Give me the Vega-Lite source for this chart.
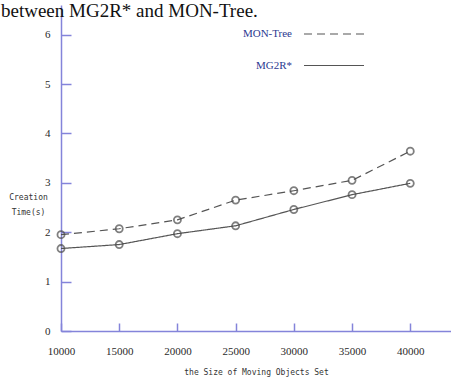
{
  "$schema": "https://vega.github.io/schema/vega-lite/v6.json",
  "width": 390,
  "height": 326,
  "autosize": {"type": "none"},
  "padding": {"left": 61, "top": 5, "right": 0, "bottom": 50},
  "background": "white",
  "title": {
    "text": "between MG2R* and MON-Tree.",
    "anchor": "start",
    "frame": "group",
    "font": "Liberation Serif",
    "fontSize": 19,
    "fontWeight": "normal",
    "color": "#111",
    "baseline": "top",
    "orient": "top",
    "dx": -60,
    "offset": -16
  },
  "data": {
    "values": [
      {"size": 10000, "time": 1.95, "method": "MON-Tree"},
      {"size": 15000, "time": 2.07, "method": "MON-Tree"},
      {"size": 20000, "time": 2.25, "method": "MON-Tree"},
      {"size": 25000, "time": 2.65, "method": "MON-Tree"},
      {"size": 30000, "time": 2.84, "method": "MON-Tree"},
      {"size": 35000, "time": 3.05, "method": "MON-Tree"},
      {"size": 40000, "time": 3.64, "method": "MON-Tree"},
      {"size": 10000, "time": 1.67, "method": "MG2R*"},
      {"size": 15000, "time": 1.75, "method": "MG2R*"},
      {"size": 20000, "time": 1.97, "method": "MG2R*"},
      {"size": 25000, "time": 2.13, "method": "MG2R*"},
      {"size": 30000, "time": 2.46, "method": "MG2R*"},
      {"size": 35000, "time": 2.76, "method": "MG2R*"},
      {"size": 40000, "time": 2.99, "method": "MG2R*"}
    ]
  },
  "config": {
    "view": {"stroke": null},
    "axis": {
      "grid": false,
      "domainColor": "#8484da",
      "tickColor": "#8484da",
      "domainWidth": 1.5,
      "tickWidth": 1.5,
      "labelFont": "Liberation Serif",
      "labelFontSize": 11,
      "labelColor": "#2a2a2a",
      "labelFlush": false,
      "labelOverlap": false,
      "titleFont": "DejaVu Sans Mono",
      "titleFontSize": 8,
      "titleFontWeight": "normal",
      "titleColor": "#333"
    }
  },
  "encoding": {
    "x": {
      "field": "size",
      "type": "quantitative",
      "scale": {"domain": [10000, 43500], "nice": false, "zero": false},
      "axis": {
        "values": [10000, 15000, 20000, 25000, 30000, 35000, 40000],
        "format": "d",
        "tickSize": -8,
        "labelPadding": 22,
        "title": "the Size of Moving Objects Set",
        "titlePadding": 12
      }
    },
    "y": {
      "field": "time",
      "type": "quantitative",
      "scale": {"domain": [0, 6.6], "nice": false},
      "axis": {
        "values": [0, 1, 2, 3, 4, 5, 6],
        "tickSize": -10,
        "labelPadding": 21,
        "title": ["Creation", "Time(s)"],
        "titleAngle": 0,
        "titleAlign": "center",
        "titleBaseline": "top",
        "titleX": -33,
        "titleY": 188,
        "titleLineHeight": 15
      }
    }
  },
  "layer": [
    {
      "mark": {"type": "line", "color": "#555", "strokeWidth": 1.2},
      "encoding": {
        "strokeDash": {
          "field": "method",
          "type": "nominal",
          "scale": {"domain": ["MON-Tree", "MG2R*"], "range": [[8, 5], [1, 0]]},
          "legend": {
            "orient": "none",
            "legendX": 262,
            "legendY": 18,
            "title": null,
            "padding": 0,
            "symbolType": "M-3,0H3",
            "symbolSize": 400,
            "symbolStrokeColor": "#555",
            "symbolStrokeWidth": 1.2,
            "rowPadding": 15.5,
            "labelAlign": "right",
            "labelOffset": -53,
            "labelFont": "Liberation Serif",
            "labelFontSize": 11,
            "labelColor": "#2b3990"
          }
        }
      }
    },
    {
      "mark": {"type": "point", "shape": "circle", "filled": false, "color": "#4a4a4a", "size": 50, "strokeWidth": 1.8},
      "encoding": {
        "detail": {"field": "method", "type": "nominal"}
      }
    }
  ]
}
